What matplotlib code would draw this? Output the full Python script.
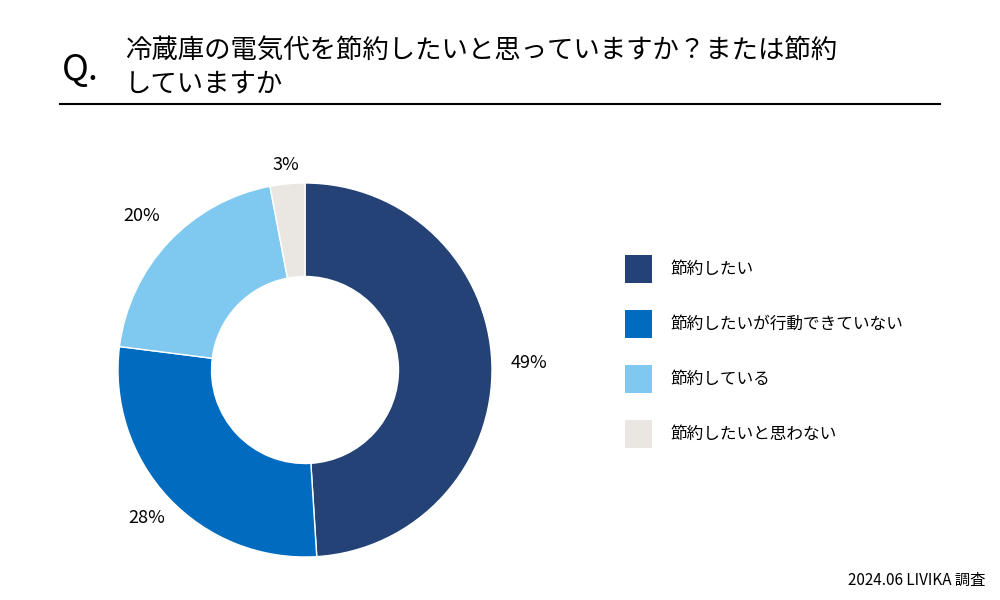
import matplotlib
matplotlib.use("Agg")
import matplotlib.pyplot as plt
from matplotlib.patches import Rectangle

plt.rcParams["font.family"] = ["Noto Sans CJK JP"]

categories = ["節約したい", "節約したいが行動できていない", "節約している", "節約したいと思わない"]
values = [49, 28, 20, 3]
colors = ["#244276", "#016BBF", "#7FC8EF", "#EAE6E2"]

fig = plt.figure(figsize=(10, 6), dpi=100)
fig.patch.set_facecolor("white")

# title
fig.text(0.062, 1 - 70/600, "Q.", fontsize=26, va="center", ha="left")
fig.text(0.125, 1 - 50/600, "冷蔵庫の電気代を節約したいと思っていますか？または節約", fontsize=19, va="center")
fig.text(0.125, 1 - 84/600, "していますか", fontsize=19, va="center")
fig.add_artist(plt.Line2D([0.06, 0.94], [1 - 104/600]*2, color="black", lw=1.5))

R = 187
ax = fig.add_axes([(305 - R)/1000, (600 - 370 - R)/600, 2*R/1000, 2*R/600])
wedges, _ = ax.pie(values, colors=colors, startangle=90, counterclock=False,
                   radius=1, wedgeprops=dict(width=0.5, edgecolor="white", linewidth=1))
import numpy as np
ang = 90
label_r = [1.2, 1.16, 1.2, 1.1]
for v, w, lr in zip(values, wedges, label_r):
    mid = np.deg2rad((w.theta1 + w.theta2) / 2)
    ax.text(lr*np.cos(mid), lr*np.sin(mid), f"{v}%", ha="center", va="center", fontsize=13)
ax.set_xlim(-1, 1); ax.set_ylim(-1, 1); ax.set_aspect("equal"); ax.axis("off")

# legend
for i, (c, col) in enumerate(zip(categories, colors)):
    yc = 269 + i*55
    fig.add_artist(Rectangle((625/1000, 1 - (yc + 14)/600), 27/1000, 28/600,
                             facecolor=col, edgecolor="none", transform=fig.transFigure))
    fig.text(670/1000, 1 - yc/600, c, fontsize=12, va="center")

fig.text(0.985, 1 - 580/600, "2024.06 LIVIKA 調査", fontsize=11, ha="right", va="center")
fig.savefig("out.png", dpi=100)
